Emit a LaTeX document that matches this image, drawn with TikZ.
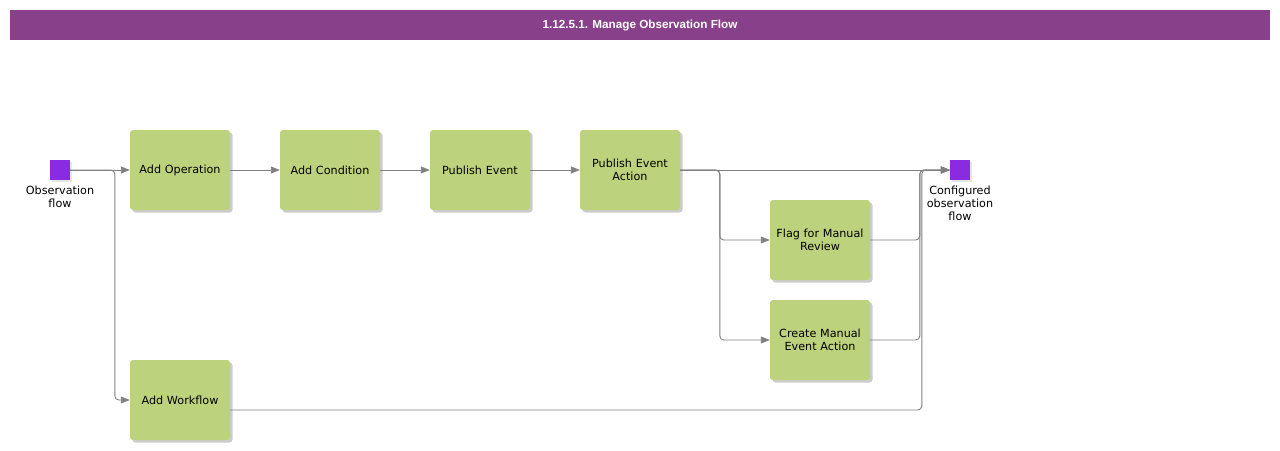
\documentclass[tikz,border=0pt]{standalone}
\usepackage{fontspec}
\setmainfont{DejaVu Sans}
\newfontfamily\titlefont{Liberation Sans}
\usetikzlibrary{arrows.meta}
\usetikzlibrary{shadows}
\definecolor{titlebar}{RGB}{135,64,137}
\definecolor{termfill}{RGB}{138,43,226}
\definecolor{taskfill}{RGB}{189,210,124}
\definecolor{flowgray}{RGB}{128,128,128}
\tikzset{
  task/.style={draw=none, fill=taskfill, rounded corners=3pt, minimum width=100pt,
    minimum height=80pt, inner sep=0pt, text width=96pt, align=center,
    font=\fontsize{11.2}{13}\selectfont,
    drop shadow={shadow xshift=2.5pt, shadow yshift=-2.5pt, fill=black!25, opacity=0.8}},
  term/.style={fill=termfill, minimum size=20pt, inner sep=0pt,
    drop shadow={shadow xshift=2pt, shadow yshift=-2pt, fill=black!20}},
  termlabel/.style={align=center, inner sep=0pt, font=\fontsize{11.2}{13}\selectfont},
  flow/.style={draw=flowgray, line width=0.9pt, rounded corners=4pt,
    -{Triangle[length=9pt,width=7pt]}}
}
\begin{document}
\begin{tikzpicture}[x=1pt,y=-1pt]
    \useasboundingbox (0,0) rectangle (1280,450);
    \fill[titlebar] (10,10) rectangle (1270,40);
    \node[text=white, font=\titlefont\bfseries\fontsize{11.7}{13}\selectfont] (title) at (640,25) {1.12.5.1. Manage Observation Flow};
    % start and end
    \node[term] (start) at (60,170) {};
    \node[termlabel, anchor=north] (startlbl) at (60,186) {Observation\\flow};
    \node[term] (end) at (960,170) {};
    \node[termlabel, anchor=north] (endlbl) at (960,186) {Configured\\observation\\flow};
    % tasks
    \node[task] (addop) at (180,170) {Add Operation};
    \node[task] (addcond) at (330,170) {Add Condition};
    \node[task] (pubev) at (480,170) {Publish Event};
    \node[task] (pubact) at (630,170) {Publish Event\\Action};
    \node[task] (flag) at (820,240) {Flag for Manual\\Review};
    \node[task] (create) at (820,340) {Create Manual\\Event Action};
    \node[task] (addwf) at (180,400) {Add Workflow};
    % flows
    \draw[flow] (start) to (addop);
    \draw[flow] (start.east) -| ([xshift=-15pt]addwf.west) -- (addwf.west);
    \draw[flow] (addop) to (addcond);
    \draw[flow] (addcond) to (pubev);
    \draw[flow] (pubev) to (pubact);
    \draw[flow] (pubact) to (end);
    \draw[flow] (pubact.east) -| ([xshift=-50pt]flag.west) -- (flag.west);
    \draw[flow] (pubact.east) -| ([xshift=-50pt]create.west) -- (create.west);
    \draw[flow] (flag.east) -| ([xshift=-30pt]end.west) -- (end.west);
    \draw[flow] (create.east) -| ([xshift=-30pt]end.west) -- (end.west);
    \draw[flow] ([yshift=-10pt]addwf.east) -| ([xshift=-28pt]end.west) -- (end.west);
\end{tikzpicture}
\end{document}
